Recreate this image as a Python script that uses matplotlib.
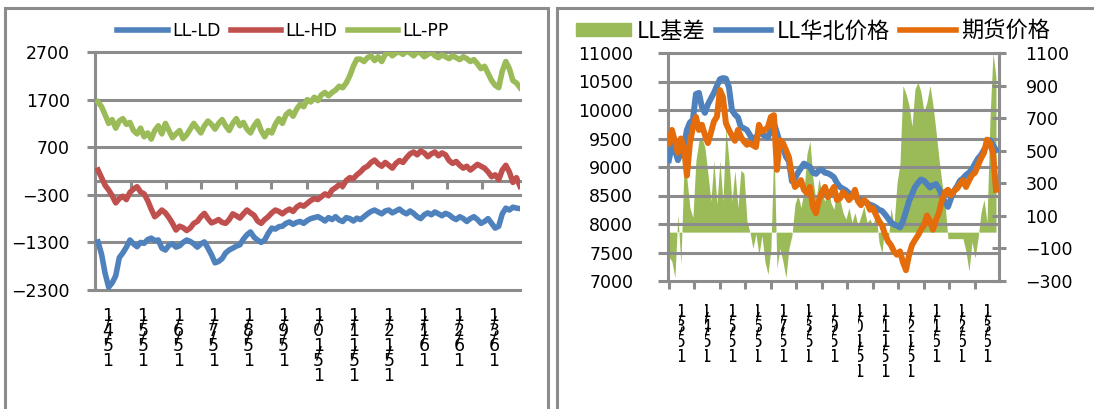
import numpy as np
import matplotlib.pyplot as plt
from matplotlib.patches import Rectangle, Patch
from matplotlib.lines import Line2D
from matplotlib.transforms import Bbox
plt.switch_backend('agg')

GRAY = '#8C8C8C'
BLUE = '#4F81BD'
RED = '#C0504D'
GREEN = '#9BBB59'
ORANGE = '#E46C0A'

# ---- left panel: LL spreads ----
ll_ld = [-1290, -1550, -1950, -2240, -2150, -2000, -1620, -1520, -1400, -1250,
         -1330, -1390, -1300, -1320, -1240, -1210, -1260, -1250, -1420, -1460,
         -1360, -1330, -1400, -1370, -1300, -1250, -1280, -1330, -1400, -1330,
         -1290, -1420, -1560, -1730, -1700, -1640, -1520, -1460, -1420, -1380,
         -1350, -1230, -1140, -1080, -1190, -1250, -1300, -1250, -1110, -1000,
         -1020, -970, -960, -900, -870, -920, -880, -860, -900, -840,
         -800, -780, -760, -800, -850, -780, -820, -760, -830, -860,
         -780, -800, -850, -790, -820, -760, -700, -650, -620, -660,
         -700, -640, -620, -680, -640, -600, -660, -700, -640, -690,
         -760, -800, -720, -680, -720, -660, -700, -740, -690, -720,
         -780, -820, -760, -800, -860, -800, -760, -820, -900, -860,
         -800, -900, -1000, -960, -700, -580, -620, -560, -580, -590]
ll_hd = [220, 60, -100, -200, -320, -470, -380, -330, -400, -250,
         -180, -130, -240, -280, -420, -600, -760, -700, -620, -680,
         -780, -900, -1040, -960, -990, -1050, -1000, -900, -860, -760,
         -690, -800, -890, -860, -820, -880, -900, -820, -700, -740,
         -790, -700, -620, -680, -730, -850, -900, -820, -760, -680,
         -620, -650, -700, -640, -600, -650, -560, -510, -540, -480,
         -420, -380, -400, -340, -280, -320, -200, -150, -90, -120,
         0, 60, 40, 120, 180, 260, 300, 380, 430, 350,
         300, 380, 320, 260, 360, 420, 380, 480, 560, 600,
         540, 620, 580, 500, 560, 600, 520, 580, 540, 420,
         360, 400, 320, 260, 300, 220, 280, 340, 300, 260,
         180, 80, 120, 20, 220, 320, 180, -40, 60, -120]
ll_pp = [1650, 1550, 1380, 1200, 1280, 1100, 1250, 1300, 1180, 1220,
         1050, 980, 1100, 920, 1000, 870, 1050, 1150, 980, 1200,
         1050, 900, 980, 1050, 880, 960, 1080, 1200, 1100, 1000,
         1150, 1250, 1180, 1080, 1200, 1280, 1150, 1050, 1200, 1300,
         1150, 1220, 1080, 1000, 1150, 1250, 1050, 920, 1050, 1000,
         1180, 1300, 1200, 1380, 1450, 1350, 1500, 1600, 1550, 1700,
         1650, 1750, 1680, 1800, 1850, 1780, 1850, 1900, 1980, 1950,
         2050, 2200, 2400, 2550, 2550, 2500, 2580, 2620, 2520, 2600,
         2500, 2650, 2700, 2620, 2680, 2700, 2650, 2720, 2680, 2620,
         2700, 2680, 2600, 2650, 2700, 2620, 2580, 2640, 2600, 2560,
         2620, 2580, 2540, 2600, 2560, 2500, 2540, 2450, 2350, 2400,
         2250, 2100, 2000, 1950, 2300, 2500, 2350, 2100, 2050, 1950]
left_dates = ['15/4/1', '15/5/1', '15/6/1', '15/7/1', '15/8/1', '15/9/1',
              '15/10/1', '15/11/1', '15/12/1', '16/1/1', '16/2/1', '16/3/1']

# ---- right panel: basis, north-China spot, futures ----
basis = [-150, -180, -280, 110, -200, 390, 330, 150, 90, 440,
         560, 580, 520, 360, 190, 440, 170, 440, 190, 640,
         440, 190, 380, 150, 380, 360, 70, 0, -100, -10,
         -140, -20, -180, -260, -100, 540, -220, -100, -180, -280,
         -100, -20, 170, 230, 150, 250, 480, 560, 330, 190,
         330, 230, 190, 270, 180, 140, 260, 200, 120, 80,
         150, 60, 120, 40, 100, 160, 60, 80, 40, 120,
         -60, -130, 60, -80, 150, 40, 300, 420, 900, 850,
         780, 650, 880, 920, 860, 740, 800, 900, 780, 620,
         450, 300, 180, -40, -40, -40, -40, -40, -40, -120,
         -240, -60, -160, -40, 120, 200, 60, 700, 1100, 950]
north_price = [9120, 9380, 9300, 9120, 9250, 9380, 9650, 9780, 9830, 10280,
               10300, 10050, 9950, 10100, 10200, 10300, 10420, 10540, 10560, 10550,
               10400, 10000, 9920, 9870, 9700, 9680, 9650, 9560, 9480, 9520,
               9600, 9580, 9540, 9520, 9640, 9770, 9600, 9420, 9350, 9180,
               9100, 8750, 8800, 8900, 8980, 9060, 9030, 9000, 8900, 8880,
               8940, 8950, 8900, 8890, 8860, 8820, 8720, 8650, 8620, 8590,
               8540, 8500, 8480, 8440, 8420, 8400, 8360, 8340, 8320, 8290,
               8250, 8230, 8170, 8100, 8030, 7990, 7970, 7940, 8050, 8220,
               8400, 8520, 8650, 8720, 8780, 8760, 8700, 8640, 8680, 8700,
               8620, 8500, 8380, 8300, 8450, 8580, 8660, 8760, 8800, 8860,
               8900, 8960, 9060, 9150, 9210, 9300, 9380, 9470, 9380, 9300]
futures_price = [9420, 9650, 9450, 9250, 9500, 9350, 8850, 9420, 9700, 9880,
                 9650, 9740, 9560, 9420, 9600, 9800, 9880, 10350, 10230, 9770,
                 9650, 9550, 9460, 9650, 9530, 9450, 9390, 9420, 9380, 9350,
                 9740, 9620, 9650, 9700, 9880, 9910, 8950, 9470, 9420, 9300,
                 9170, 8850, 8650, 8700, 8770, 8600, 8540, 8650, 8300, 8190,
                 8420, 8560, 8650, 8470, 8560, 8650, 8420, 8450, 8560, 8510,
                 8420, 8480, 8600, 8400, 8330, 8420, 8380, 8250, 8280, 8160,
                 8050, 7980, 7820, 7700, 7630, 7520, 7460, 7520, 7330, 7190,
                 7450, 7630, 7720, 7800, 7900, 7980, 8150, 8050, 7900, 8070,
                 8200, 8420, 8560, 8600, 8500, 8580, 8620, 8700, 8770, 8650,
                 8760, 8860, 8900, 9030, 9150, 9250, 9480, 9420, 9250, 8600]
right_dates = ['15/3/1', '15/4/1', '15/5/1', '15/6/1', '15/7/1', '15/8/1', '15/9/1',
               '15/10/1', '15/11/1', '15/12/1', '16/1/1', '16/2/1', '16/3/1']

W, H = 1094, 409
FS = 12.5
LW = 4.0


def box(l, t, r, b):
    return [l / W, 1 - b / H, (r - l) / W, (b - t) / H]


def stacked_ticks(ax, positions, dates, top, clip=False):
    # date labels written top-down one character per row, as the sheet drew them
    for pos, d in zip(positions, dates):
        px = ax.transData.transform((pos, 0))[0]
        row = 0
        for ch in d[::-1]:
            if ch == '/':
                off = top + 15 * row - 7.5
            else:
                off = top + 15 * row
                row += 1
            t = ax.annotate(ch, xy=(pos, 0), xycoords=('data', 'axes fraction'),
                            xytext=(0, -off), textcoords='offset pixels',
                            ha='center', va='center', fontsize=FS,
                            annotation_clip=False)
            if clip:
                t.set_clip_on(True)
                t.set_clip_box(Bbox.from_extents(px - 1, 0, px + 8, H))


fig = plt.figure(figsize=(W / 100, H / 100), dpi=100)

# panel frames
fig.add_artist(Rectangle((5 / W, -0.1), (548 - 5) / W, 1.1 - 8 / H,
                         transform=fig.transFigure, fill=False, ec=GRAY, lw=2.2))
fig.add_artist(Rectangle((557 / W, -0.1), 0.6, 1.1 - 8 / H,
                         transform=fig.transFigure, fill=False, ec=GRAY, lw=2.2))

# ---------------- left chart ----------------
ax = fig.add_axes(box(95, 52, 520, 290))
x = np.arange(len(ll_ld))
ax.plot(x, ll_ld, color=BLUE, lw=LW, label='LL-LD', zorder=3)
ax.plot(x, ll_hd, color=RED, lw=LW, label='LL-HD', zorder=3)
ax.plot(x, ll_pp, color=GREEN, lw=LW, label='LL-PP', zorder=3)
ax.set_xlim(-0.85, 119.0)
ax.set_ylim(-2300, 2700)
ax.set_yticks(np.arange(-2300, 2701, 1000))
ax.set_xticks([])
for s in ['top', 'right', 'bottom']:
    ax.spines[s].set_visible(False)
ax.spines['left'].set_color(GRAY)
ax.spines['left'].set_linewidth(2.2)
ax.tick_params(axis='y', direction='out', length=6, width=2.2, color=GRAY,
               pad=12, labelsize=FS)
ax.yaxis.grid(True, color=GRAY, lw=2.2)
ax.set_axisbelow(True)
for gl in ax.yaxis.get_gridlines():
    gl.set_clip_on(False)

# zero line with category tick marks
zero = ax.secondary_xaxis(2300 / 5000)
zero.set_xticks(np.arange(1, 12) * 9.9 - 0.6)
zero.tick_params(direction='out', length=6, width=2.2, color=GRAY, labelbottom=False)
zero.spines['bottom'].set_color(GRAY)
zero.spines['bottom'].set_linewidth(2.2)
zero.set_zorder(1.5)

stacked_ticks(ax, np.arange(12) * 9.9 + 2.8, left_dates, top=26)

fig.legend(handles=ax.get_lines(), loc='center', bbox_to_anchor=(283 / W, 1 - 31 / H),
           ncol=3, frameon=False, fontsize=FS, handlelength=2.9,
           handletextpad=0.25, columnspacing=0.6)

# ---------------- right chart ----------------
axp = fig.add_axes(box(668, 53, 999, 281))
axb = axp.twinx()
axp.set_zorder(axb.get_zorder() + 1)
axp.patch.set_visible(False)

xr = np.arange(len(basis))
axb.fill_between(xr, 0, basis, color=GREEN, lw=0)
axp.plot(xr, north_price, color=BLUE, lw=LW + 0.3, zorder=3)
axp.plot(xr, futures_price, color=ORANGE, lw=LW + 0.3, zorder=4)

axp.set_xlim(-0.3, 110)
axp.set_ylim(7000, 11000)
axb.set_ylim(-300, 1100)
axp.set_yticks(np.arange(7000, 11001, 500))
axb.set_yticks(np.arange(-300, 1101, 200))
axp.set_xticks(np.arange(0, 110, 8.5))
for s in ['top', 'right', 'bottom']:
    axp.spines[s].set_visible(False)
for s in ['top', 'left', 'bottom']:
    axb.spines[s].set_visible(False)
axp.spines['left'].set_color(GRAY)
axp.spines['left'].set_linewidth(2.2)
axb.spines['right'].set_color(GRAY)
axb.spines['right'].set_linewidth(2.2)
axp.tick_params(axis='y', direction='out', length=7, width=2.2, color=GRAY,
                pad=18, labelsize=FS)
axp.tick_params(axis='x', direction='out', length=6, width=2.2, color=GRAY,
                labelbottom=False)
axb.tick_params(axis='y', direction='inout', length=10, width=2.2, color=GRAY,
                pad=14, labelsize=FS)
axp.yaxis.grid(True, color=GRAY, lw=2.2)
for gl in axp.yaxis.get_gridlines():
    gl.set_clip_on(False)

stacked_ticks(axp, np.arange(13) * 8.5 + 3.8, right_dates, top=31, clip=True)

cjk = {'family': ['Noto Sans CJK SC', 'DejaVu Sans'], 'size': 16}
handles = [Patch(color=GREEN), Line2D([], [], color=BLUE, lw=LW),
           Line2D([], [], color=ORANGE, lw=LW)]
fig.legend(handles, ['LL基差', 'LL华北价格', '期货价格'], loc='center',
           bbox_to_anchor=(813 / W, 1 - 31 / H), ncol=3, frameon=False, prop=cjk,
           handlelength=2.5, handleheight=0.55, handletextpad=0.25, columnspacing=0.45)

fig.savefig('out.png', dpi=100)
